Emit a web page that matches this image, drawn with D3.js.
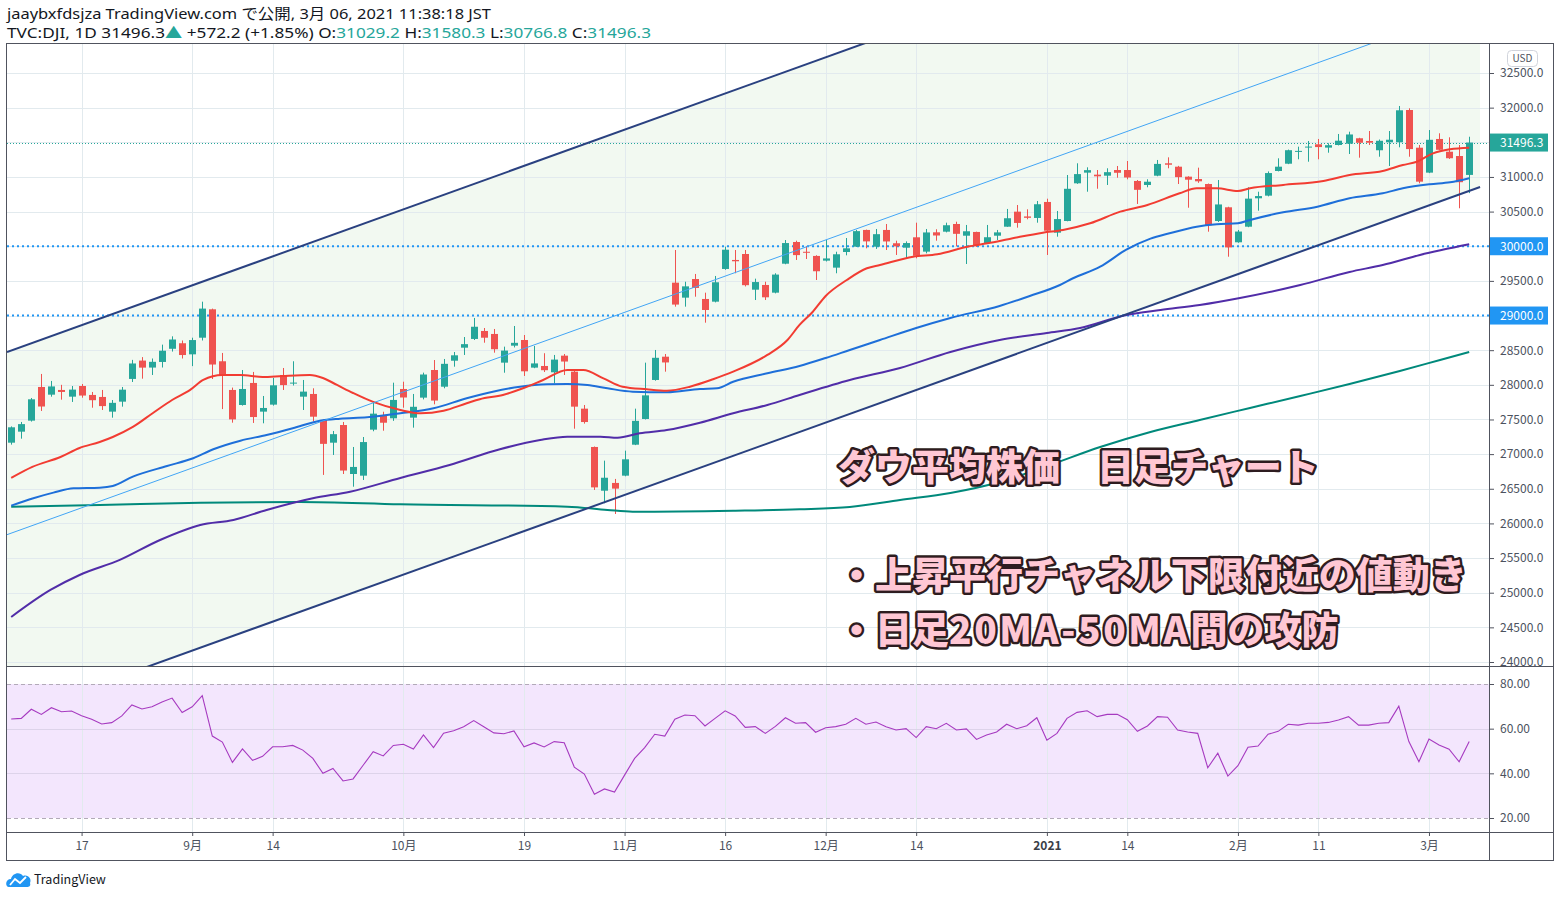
<!DOCTYPE html>
<html><head><meta charset="utf-8">
<script src="https://cdn.jsdelivr.net/npm/d3@7/dist/d3.min.js"></script>
<style>
body{margin:0;background:#fff;}
svg{display:block;}
</style></head><body>
<svg id="c" width="1560" height="897"></svg>
<script>
// ---------------- DATA ----------------
const dates = [
"2020-08-06","2020-08-07","2020-08-10","2020-08-11","2020-08-12","2020-08-13","2020-08-14","2020-08-17","2020-08-18","2020-08-19",
"2020-08-20","2020-08-21","2020-08-24","2020-08-25","2020-08-26","2020-08-27","2020-08-28","2020-08-31","2020-09-01","2020-09-02",
"2020-09-03","2020-09-04","2020-09-08","2020-09-09","2020-09-10","2020-09-11","2020-09-14","2020-09-15","2020-09-16","2020-09-17",
"2020-09-18","2020-09-21","2020-09-22","2020-09-23","2020-09-24","2020-09-25","2020-09-28","2020-09-29","2020-09-30","2020-10-01",
"2020-10-02","2020-10-05","2020-10-06","2020-10-07","2020-10-08","2020-10-09","2020-10-12","2020-10-13","2020-10-14","2020-10-15",
"2020-10-16","2020-10-19","2020-10-20","2020-10-21","2020-10-22","2020-10-23","2020-10-26","2020-10-27","2020-10-28","2020-10-29",
"2020-10-30","2020-11-02","2020-11-03","2020-11-04","2020-11-05","2020-11-06","2020-11-09","2020-11-10","2020-11-11","2020-11-12",
"2020-11-13","2020-11-16","2020-11-17","2020-11-18","2020-11-19","2020-11-20","2020-11-23","2020-11-24","2020-11-25","2020-11-27",
"2020-11-30","2020-12-01","2020-12-02","2020-12-03","2020-12-04","2020-12-07","2020-12-08","2020-12-09","2020-12-10","2020-12-11",
"2020-12-14","2020-12-15","2020-12-16","2020-12-17","2020-12-18","2020-12-21","2020-12-22","2020-12-23","2020-12-24","2020-12-28",
"2020-12-29","2020-12-30","2020-12-31","2021-01-04","2021-01-05","2021-01-06","2021-01-07","2021-01-08","2021-01-11","2021-01-12",
"2021-01-13","2021-01-14","2021-01-15","2021-01-19","2021-01-20","2021-01-21","2021-01-22","2021-01-25","2021-01-26","2021-01-27",
"2021-01-28","2021-01-29","2021-02-01","2021-02-02","2021-02-03","2021-02-04","2021-02-05","2021-02-08","2021-02-09","2021-02-10",
"2021-02-11","2021-02-12","2021-02-16","2021-02-17","2021-02-18","2021-02-19","2021-02-22","2021-02-23","2021-02-24","2021-02-25",
"2021-02-26","2021-03-01","2021-03-02","2021-03-03","2021-03-04","2021-03-05"];

const open = [
27165,27324,27483,27969,27858,27926,27829,27983,27854,27825,
27613,27757,28085,28350,28249,28330,28520,28600,28440,28680,
29090,28340,27926,27709,28027,27613,27714,28142,28020,27829,
27868,27493,27165,27420,26713,26689,27353,27565,27517,27940,
27526,27815,28214,27973,28348,28536,28662,28777,28734,28320,
28565,28647,28248,28272,28181,28421,28190,27656,27103,26472,
26584,26689,27136,27507,28070,28406,29474,29258,29527,29239,
29200,29672,29802,29888,29373,29441,29330,29748,30061,29920,
29860,29792,29691,29917,29994,30235,29994,30235,30043,29979,
30129,29922,30201,30210,30321,30152,30206,30047,30152,30282,
30499,30430,30408,30639,30196,30364,30908,31062,31033,31018,
31100,31100,30942,30884,31018,31197,31148,31004,30970,30898,
30364,30562,30057,30282,30692,30730,31086,31191,31364,31428,
31471,31423,31461,31480,31558,31519,31385,31500,31500,31966,
31422,31062,31548,31364,31302,31029.2];

const high = [
27400,27464,27810,28157,28056,28000,27983,28012,27897,27926,
27781,27969,28360,28400,28380,28580,28700,28640,28680,29200,
29100,28460,27960,28214,28186,27839,28099,28243,28340,28070,
27950,27500,27334,27464,27103,27247,27738,27612,28031,28045,
27868,28176,28358,28373,28474,28690,28965,28820,28806,28551,
28849,28719,28561,28456,28431,28445,28200,27709,27110,26906,
26642,27050,27656,28320,28503,28445,29946,29488,29600,29330,
29571,29994,29946,29946,29532,29488,29610,30090,30080,30004,
29870,30090,29921,30119,30235,30240,30249,30321,30080,30070,
30340,30249,30245,30340,30354,30307,30210,30307,30235,30538,
30595,30533,30653,30686,30509,31028,31197,31139,31100,31125,
31158,31230,30956,30966,31245,31283,31160,31010,31134,30905,
30956,30570,30235,30851,30787,31080,31269,31395,31437,31519,
31548,31486,31620,31653,31565,31663,31540,31663,32024,31991,
31461,31677,31630,31572,31461,31580.3];

const low = [
27137,27223,27470,27623,27829,27786,27753,27814,27670,27637,
27526,27685,28041,28089,28142,28250,28480,28380,28270,28640,
28084,27650,27454,27700,27450,27445,27700,27926,27990,27637,
27470,26700,26988,26713,26530,26627,27330,27338,27480,27670,
27382,27790,27719,27950,28262,28431,28647,28608,28464,28175,
28540,28128,28240,28185,28022,28142,27367,27440,26483,26291,
26136,26680,27130,27500,28060,28190,29128,29128,29272,28897,
29190,29660,29610,29420,29224,29224,29320,29740,29802,29816,
29513,29780,29610,29869,29990,29970,29961,29946,29874,29826,
29826,29898,30080,30200,29998,29744,29990,30040,30090,30280,
30268,30389,30340,29874,30138,30360,30900,30787,30830,30884,
30989,30966,30610,30851,31010,31125,30898,30556,30915,30210,
30350,29849,30050,30275,30513,30720,31080,31185,31255,31220,
31255,31350,31455,31331,31278,31461,31292,31158,31428,31292,
30908,31055,31385,31260,30548,30766.8];

const close = [
27387,27433,27791,27687,27977,27897,27931,27845,27778,27693,
27740,27930,28308,28248,28332,28492,28654,28430,28646,29100,
28293,28133,27501,27940,27535,27666,27993,27996,28032,27902,
27540,27148,27288,26763,26815,27174,27584,27453,27782,27817,
27683,28149,27773,28303,28426,28587,28838,28680,28514,28494,
28606,28195,28309,28211,28364,28336,27685,27463,26520,26659,
26502,26925,27480,27848,28390,28323,29158,29421,29398,29080,
29480,29950,29783,29438,29483,29263,29591,30046,29872,29910,
29639,29824,29884,29970,30218,30070,30174,30069,29999,30046,
29862,30199,30155,30303,30179,30216,30016,30130,30200,30404,
30336,30410,30606,30224,30392,30829,31041,31098,31009,31069,
31060,30992,30814,30931,31188,31176,30997,30960,30937,30303,
30603,29983,30212,30687,30724,31056,31148,31386,31376,31438,
31431,31458,31523,31613,31493,31494,31522,31537,31962,31402,
30932,31536,31392,31270,30924,31496.3];

// moving averages: [bar index, value]
const ma20 = [[0,26656],[2.1,26815],[4.9,26959],[6.8,27089],[8.8,27175],[10.1,27247],[12.1,27392],[14.1,27594],[16,27781],[17.8,27926],[19.1,28070],[21,28142],[22.8,28142],[25,28113],[27,28128],[29.7,28142],[31,28099],[32.4,27998],[34,27882],[36,27753],[38.7,27637],[40.7,27590],[43,27627],[45.3,27734],[46.6,27792],[48.9,27854],[50.9,27950],[52.9,28070],[55.3,28214],[56.9,28214],[58.9,28094],[60.8,27973],[63.2,27936],[65.2,27916],[67.5,27973],[69.8,28080],[71.8,28190],[75.2,28431],[77.2,28647],[78.4,28864],[79.7,29051],[81,29282],[83.1,29513],[85.1,29682],[86.4,29729],[89.7,29849],[92.1,29884],[95.1,29993],[97.1,30043],[99.6,30115],[102.6,30196],[104.6,30235],[107.3,30331],[110.3,30499],[113,30595],[116.2,30764],[117.9,30836],[119.9,30836],[122,30797],[123.2,30836],[126.5,30884],[130.5,30942],[133.1,31028],[136.4,31086],[138.4,31172],[139.8,31220],[141.4,31341],[143.1,31399],[145,31422]];
const ma50 = [[0,26256],[2.2,26363],[4.2,26444],[6.2,26507],[8.8,26516],[10.1,26540],[12.1,26675],[15.5,26829],[18.1,26940],[20.1,27070],[22.8,27194],[25.4,27276],[28,27373],[30.7,27483],[32.7,27512],[35.4,27532],[38.7,27590],[42,27662],[45.3,27806],[47.9,27901],[50.6,27973],[53.3,28008],[55.3,28012],[57.3,27998],[59.3,27950],[61.8,27901],[65.2,27892],[68.5,27940],[70.2,27950],[71.8,28045],[75.2,28167],[78.4,28272],[81,28387],[83.4,28503],[86.4,28647],[90,28820],[93.4,28965],[98.3,29138],[101.3,29282],[104.3,29441],[105.6,29538],[108.3,29705],[110.9,29950],[113.3,30110],[115.2,30187],[117.9,30282],[119.9,30317],[122,30331],[123.2,30379],[126.5,30490],[129.9,30571],[133.1,30692],[136.4,30764],[138.4,30836],[141.1,30894],[143.1,30923],[145,30981]];
const ma100 = [[0,24650],[3.9,25040],[6.8,25256],[10.8,25473],[14.8,25761],[18.8,25978],[22.1,26050],[25.4,26194],[30,26363],[33.7,26458],[38.7,26656],[43.6,26843],[48.6,27070],[52.6,27204],[55.3,27252],[58.6,27252],[60.3,27237],[62.5,27301],[65.2,27348],[68.5,27454],[71.8,27590],[75.2,27709],[78.4,27854],[83.4,28070],[88.4,28243],[93.4,28474],[98.3,28647],[103,28748],[106.3,28820],[110.9,29008],[114.3,29080],[118.2,29152],[122.2,29253],[128.2,29441],[133.1,29629],[136.4,29729],[140.1,29874],[145,30028]];
const ma200 = [[0,26242],[8.8,26266],[18.8,26299],[28.7,26310],[38.7,26276],[55.3,26242],[59.3,26194],[61.8,26170],[71.8,26184],[78.4,26204],[83.4,26237],[88.4,26338],[93.4,26439],[98.3,26598],[103.3,26843],[108.3,27103],[113.3,27320],[118.2,27493],[123.2,27666],[128.2,27839],[133.1,28012],[138.1,28200],[142.1,28359],[145,28474]];

const rsi = [
64.3,64.6,68.7,66.4,69.4,67.6,67.9,65.8,64.2,62.1,
62.7,65.7,70.6,68.8,69.8,71.9,73.7,67.2,69.8,74.8,
56.7,54.0,44.9,50.9,45.8,47.6,51.9,51.9,52.5,50.4,
46.7,40.0,42.2,36.6,37.5,43.6,49.7,47.8,52.5,53.0,
50.9,57.2,51.5,58.0,59.1,60.9,63.6,60.9,58.1,57.7,
59.0,51.9,53.6,51.8,54.2,53.7,42.8,39.7,30.6,33.0,
31.6,39.2,46.7,51.5,57.5,56.7,64.2,66.1,65.8,61.2,
64.6,68.0,65.7,60.6,60.9,57.9,61.0,64.9,62.4,62.7,
58.4,60.4,60.9,62.0,64.6,62.0,63.0,60.9,59.4,60.0,
56.0,60.9,60.0,62.4,59.4,59.9,55.2,57.2,58.5,62.0,
60.0,61.3,64.9,54.8,57.9,64.6,67.3,68.0,65.4,66.4,
66.4,64.0,58.8,61.2,65.4,65.1,59.4,58.5,57.9,42.5,
49.0,38.8,43.4,51.7,52.2,57.5,58.8,62.0,61.6,62.4,
62.4,62.8,63.9,65.4,61.6,61.6,62.4,62.7,70.1,54.2,
45.2,55.4,52.7,50.8,45.2,54.2];

// parallel channel: lower line anchors [bar index, price] and channel height
const channelLower = [[-0.42, 23202], [146.08, 30855]];
const channelHeight = 5271;

const priceTicks = [24000,24500,25000,25500,26000,26500,27000,27500,28000,28500,29000,29500,30000,30500,31000,31500,32000,32500];
const rsiTicks = [80,60,40,20];
const tickDates = ["2020-08-17","2020-09-01","2020-09-14","2020-10-01","2020-10-19","2020-11-02","2020-11-16","2020-12-01","2020-12-14","2021-01-04","2021-01-14","2021-02-01","2021-02-11","2021-03-01"];
const tickLabels = ["17","9月","14","10月","19","11月","16","12月","14","2021","14","2月","11","3月"];
const levels = [30000, 29000];
const lastPrice = 31496.3;

// ---------------- LAYOUT ----------------
const FONT = "'Noto Sans CJK JP','Noto Sans',sans-serif";
const HFONT = "'Noto Sans','Noto Sans CJK JP',sans-serif";
const PL = 7, PR = 1489, PT = 44, PB = 666, RB = 832, AX = 1553, TB = 860;
const UP = "#26a69a", DN = "#ef5350", GRID = "#e2eaee";

const svg = d3.select("#c");
svg.append("rect").attr("width",1560).attr("height",897).attr("fill","#fff");

const x = d3.scaleLinear().domain([0, dates.length - 1]).range([11.2, 1469.2]);
const xd = d3.scalePoint().domain(dates).range([x(0), x(dates.length - 1)]);
const y = d3.scaleLinear().domain([24000, 32500]).range([662, 73]);
const yr = d3.scaleLinear().domain([20, 80]).range([818, 684]);

const defs = svg.append("defs");
defs.append("clipPath").attr("id","cm").append("rect").attr("x",PL).attr("y",PT).attr("width",PR-PL).attr("height",PB-PT);
defs.append("clipPath").attr("id","cr").append("rect").attr("x",PL).attr("y",PB).attr("width",PR-PL).attr("height",RB-PB);
defs.append("clipPath").attr("id","ca").append("rect").attr("x",PR).attr("y",PT).attr("width",AX-PR).attr("height",PB-PT);

const main = svg.append("g").attr("clip-path","url(#cm)");
const rp = svg.append("g").attr("clip-path","url(#cr)");

// channel fill
const chPts = channelLower.map(([i, p]) => ({i, lo: p, hi: p + channelHeight}));
main.append("path").datum(chPts)
  .attr("d", d3.area().x(d => x(d.i)).y0(d => y(d.lo)).y1(d => y(d.hi)))
  .attr("fill", "#f2f9f1");

// grid
main.selectAll(".hg").data(priceTicks).join("line")
  .attr("x1",PL).attr("x2",PR).attr("y1",d=>Math.round(y(d))+0.5).attr("y2",d=>Math.round(y(d))+0.5)
  .attr("stroke",GRID);
main.selectAll(".vg").data(tickDates).join("line")
  .attr("x1",d=>Math.round(xd(d))+0.5).attr("x2",d=>Math.round(xd(d))+0.5).attr("y1",PT).attr("y2",PB)
  .attr("stroke",GRID);

// horizontal levels
main.selectAll(".lv").data(levels).join("line")
  .attr("x1",PL).attr("x2",PR).attr("y1",d=>y(d)).attr("y2",d=>y(d))
  .attr("stroke","#2196f3").attr("stroke-width",2).attr("stroke-dasharray","2,3");
main.append("line").attr("x1",PL).attr("x2",PR).attr("y1",Math.round(y(lastPrice))+0.5).attr("y2",Math.round(y(lastPrice))+0.5)
  .attr("stroke",UP).attr("stroke-width",1).attr("stroke-dasharray","1,2");

// candles
const bars = dates.map((d,i)=>({i,o:open[i],h:high[i],l:low[i],c:close[i]}));
const cg = main.append("g");
cg.selectAll(".wk").data(bars).join("rect")
  .attr("x",d=>Math.round(x(d.i))).attr("width",1)
  .attr("y",d=>y(d.h)).attr("height",d=>Math.max(1,y(d.l)-y(d.h)))
  .attr("fill",d=>d.c>=d.o?UP:DN);
cg.selectAll(".bd").data(bars).join("rect")
  .attr("x",d=>Math.round(x(d.i))-3).attr("width",7)
  .attr("y",d=>y(Math.max(d.o,d.c))).attr("height",d=>Math.max(1,Math.abs(y(d.o)-y(d.c))))
  .attr("fill",d=>d.c>=d.o?UP:DN);

// moving averages
const maLine = d3.line().x(d=>x(d[0])).y(d=>y(d[1])).curve(d3.curveMonotoneX);
[[ma200,"#00897b"],[ma100,"#512da8"],[ma50,"#1e6fd9"],[ma20,"#f23c32"]].forEach(([data,col])=>{
  main.append("path").datum(data).attr("d",maLine).attr("fill","none").attr("stroke",col).attr("stroke-width",2).attr("stroke-linejoin","round");
});

// channel lines
const chLine = key => d3.line().x(d=>x(d.i)).y(d=>y(key(d)));
main.append("path").datum(chPts).attr("d",chLine(d=>d.lo+channelHeight/2)).attr("stroke","#42a5f5").attr("stroke-width",1).attr("fill","none");
main.append("path").datum(chPts).attr("d",chLine(d=>d.lo)).attr("stroke","#2a4180").attr("stroke-width",2).attr("fill","none");
main.append("path").datum(chPts).attr("d",chLine(d=>d.hi)).attr("stroke","#2a4180").attr("stroke-width",2).attr("fill","none");

// annotation text
const notes = [
  {parts:[["ダウ平均株価　日足チャート",0]], x:838, y:481},
  {parts:[["・上昇平行チャネル下限付近の値動き",0]], x:838, y:589},
  {parts:[["・日足",0],["20MA-50MA",2.6],["間の攻防",0]], x:838, y:644}
];
const nt = svg.selectAll(".note").data(notes).join("text")
  .attr("x",d=>d.x).attr("y",d=>d.y)
  .attr("font-family",FONT).attr("font-size",37).attr("font-weight",900)
  .attr("fill","#ffc7d4").attr("stroke","#2e1c20").attr("stroke-width",5)
  .attr("stroke-linejoin","round").attr("paint-order","stroke");
nt.each(function(d){
  const t = d3.select(this);
  d.parts.forEach(([s,ls])=>t.append("tspan").text(s).attr("letter-spacing",ls));
});

// ---------------- RSI pane ----------------
rp.append("rect").attr("x",PL).attr("width",PR-PL).attr("y",yr(80)).attr("height",yr(20)-yr(80)).attr("fill","#f3e6fd");
rp.selectAll(".vg").data(tickDates).join("line")
  .attr("x1",d=>Math.round(xd(d))+0.5).attr("x2",d=>Math.round(xd(d))+0.5).attr("y1",PB).attr("y2",RB)
  .attr("stroke",GRID);
rp.selectAll(".rg").data([60,40]).join("line")
  .attr("x1",PL).attr("x2",PR).attr("y1",d=>Math.round(yr(d))+0.5).attr("y2",d=>Math.round(yr(d))+0.5)
  .attr("stroke","#ddd3ea");
rp.selectAll(".rb").data([80,20]).join("line")
  .attr("x1",PL).attr("x2",PR).attr("y1",d=>Math.round(yr(d))+0.5).attr("y2",d=>Math.round(yr(d))+0.5)
  .attr("stroke","#b2aab8").attr("stroke-dasharray","4,3");
rp.append("path").datum(rsi).attr("d",d3.line().x((d,i)=>x(i)).y(d=>yr(d)))
  .attr("fill","none").attr("stroke","#a63ac0").attr("stroke-width",1.1);

// ---------------- axes ----------------
const pa = svg.append("g").attr("clip-path","url(#ca)").append("g").attr("transform",`translate(${PR},0)`)
  .call(d3.axisRight(y).tickValues(priceTicks).tickSize(5).tickPadding(6).tickFormat(d3.format(".1f")));
const ra = svg.append("g").attr("transform",`translate(${PR},0)`)
  .call(d3.axisRight(yr).tickValues(rsiTicks).tickSize(5).tickPadding(6).tickFormat(d3.format(".2f")));
const ta = svg.append("g").attr("transform",`translate(0,${RB})`)
  .call(d3.axisBottom(xd).tickValues(tickDates).tickSize(4).tickPadding(5).tickFormat((d,i)=>tickLabels[i]));
[pa,ra,ta].forEach(a=>{
  a.select(".domain").remove();
  a.selectAll("line").attr("stroke","#50535e");
  a.selectAll("text").attr("fill","#4c525e").attr("font-family",FONT).attr("font-size",12);
});
ta.selectAll("text").filter(d=>d==="2021-01-04").attr("font-weight",700).attr("fill","#3a3e47");

// axis price labels
const tags = [{v:lastPrice,c:UP},{v:levels[0],c:"#2196f3"},{v:levels[1],c:"#2196f3"}];
const tg = svg.selectAll(".tag").data(tags).join("g");
tg.append("rect").attr("x",PR).attr("y",d=>y(d.v)-9).attr("width",59).attr("height",18).attr("fill",d=>d.c);
tg.append("text").attr("x",PR+11).attr("y",d=>y(d.v)+4.5).text(d=>d3.format(".1f")(d.v))
  .attr("fill","#fff").attr("font-family",FONT).attr("font-size",12);

// USD badge
svg.append("rect").attr("x",1507.5).attr("y",50.5).attr("width",30).attr("height",16).attr("rx",4)
  .attr("fill","#fff").attr("stroke","#d1d4dc");
svg.append("text").attr("x",1522.5).attr("y",62).attr("text-anchor","middle").text("USD")
  .attr("font-family",FONT).attr("font-size",10).attr("fill","#50535e");

// frame
const fr = svg.append("g").attr("stroke","#50535e").attr("stroke-width",1).attr("fill","none");
fr.append("rect").attr("x",6.5).attr("y",PT-0.5).attr("width",AX-6).attr("height",TB-PT+1);
fr.append("line").attr("x1",PR+0.5).attr("x2",PR+0.5).attr("y1",PT).attr("y2",TB);
fr.append("line").attr("x1",6).attr("x2",AX).attr("y1",PB+0.5).attr("y2",PB+0.5);
fr.append("line").attr("x1",6).attr("x2",AX).attr("y1",RB+0.5).attr("y2",RB+0.5);

// header
const hd = svg.append("g").attr("font-family",HFONT).attr("font-size",15).attr("fill","#131722");
hd.append("text").attr("x",7).attr("y",19).attr("textLength",484).attr("lengthAdjust","spacingAndGlyphs")
  .text("jaaybxfdsjza TradingView.com で公開, 3月 06, 2021 11:38:18 JST");
const l2 = hd.append("text").attr("x",7).attr("y",38).attr("textLength",644).attr("lengthAdjust","spacingAndGlyphs");
[["TVC:DJI, 1D 31496.3",null],["▲",UP],[" +572.2 (+1.85%) O:",null],["31029.2",UP],[" H:",null],["31580.3",UP],[" L:",null],["30766.8",UP],[" C:",null],["31496.3",UP]]
  .forEach(([t,c])=>{ const s=l2.append("tspan").text(t); if(c) s.attr("fill",c); });

// TradingView logo
const lg = svg.append("g");
lg.append("path").attr("d","M9,887 C5,887 5,879 11,879 C12,873 20,871 23,876 C28,874 32,879 30,883 C31,886 29,887 27,887 Z").attr("fill","#2196f3");
lg.append("polyline").attr("points","10,885 15,879 20,883 26,877").attr("fill","none").attr("stroke","#fff").attr("stroke-width",1.8);
lg.append("text").attr("x",34).attr("y",884).text("TradingView").attr("font-family",FONT).attr("font-size",12.5).attr("fill","#131722");
</script>
</body></html>
